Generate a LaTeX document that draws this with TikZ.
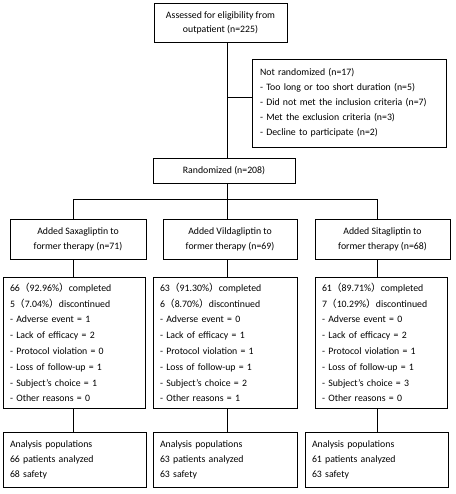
\documentclass[tikz,border=0pt]{standalone}
\usepackage{fontspec}
\setmainfont{Carlito}
\newfontfamily\cjkfont{Noto Sans CJK SC}
\newcommand{\cjklp}{{\cjkfont （}}
\newcommand{\cjkrp}{{\cjkfont ）}}
\begin{document}
\begin{tikzpicture}[x=1pt,y=-1pt,
  box/.style={draw=black, line width=0.8pt, inner xsep=7pt, inner ysep=0pt,
    font=\fontsize{9.8}{15}\selectfont},
  cbox/.style={box, align=center},
  lbox/.style={box, align=left},
  link/.style={draw=black, line width=0.8pt}]
\useasboundingbox[fill=white] (0,0) rectangle (455,494);

\coordinate (spine) at (227,0);
\coordinate (cL) at (73,0);
\coordinate (cM) at (227,0);
\coordinate (cR) at (377,0);
\coordinate (bar) at (0,199);

\node[cbox, minimum width=133pt, minimum height=39pt, font=\fontsize{9.8}{14}\selectfont] (top) at (220.5,22.5)
  {Assessed for eligibility from\\outpatient (n=225)};
\node[lbox, inner xsep=8pt, text width=178pt, minimum height=88pt] (notrand) at (349,103)
  {Not randomized (n=17)\\- Too long or too short duration (n=5)\\- Did not met the inclusion criteria (n=7)\\- Met the exclusion criteria (n=3)\\- Decline to participate (n=2)};
\node[cbox, minimum width=142pt, minimum height=25pt] (rand) at (224,170.5) {Randomized (n=208)};

\node[cbox, minimum width=136pt, minimum height=40pt] (a1) at (78,239) {Added Saxagliptin to\\former therapy (n=71)};
\node[cbox, minimum width=134pt, minimum height=40pt] (a2) at (230,239) {Added Vildagliptin to\\former therapy (n=69)};
\node[cbox, minimum width=135pt, minimum height=40pt] (a3) at (382.5,239) {Added Sitagliptin to\\former therapy (n=68)};

\node[lbox, text width=128pt, minimum height=131pt, font=\fontsize{9.8}{15.8}\selectfont] (b1) at (74,342.5)
  {66\cjklp 92.96\%\cjkrp completed\\5\cjklp 7.04\%\cjkrp discontinued\\- Adverse event = 1\\- Lack of efficacy = 2\\- Protocol violation = 0\\- Loss of follow-up = 1\\- Subject's choice = 1\\- Other reasons = 0};
\node[lbox, text width=130pt, minimum height=131pt, font=\fontsize{9.8}{15.8}\selectfont] (b2) at (225,342.5)
  {63\cjklp 91.30\%\cjkrp completed\\6\cjklp 8.70\%\cjkrp discontinued\\- Adverse event = 0\\- Lack of efficacy = 1\\- Protocol violation = 1\\- Loss of follow-up = 1\\- Subject's choice = 2\\- Other reasons = 1};
\node[lbox, text width=118pt, minimum height=131pt, font=\fontsize{9.8}{15.8}\selectfont] (b3) at (381,342.5)
  {61\cjklp 89.71\%\cjkrp completed\\7\cjklp 10.29\%\cjkrp discontinued\\- Adverse event = 0\\- Lack of efficacy = 2\\- Protocol violation = 1\\- Loss of follow-up = 1\\- Subject's choice = 3\\- Other reasons = 0};

\node[lbox, text width=129pt, minimum height=55pt] (c1) at (74.5,459.5)
  {Analysis populations\\66 patients analyzed\\68 safety};
\node[lbox, text width=130pt, minimum height=55pt] (c2) at (225,459.5)
  {Analysis populations\\63 patients analyzed\\63 safety};
\node[lbox, text width=129pt, minimum height=55pt] (c3) at (376.5,459.5)
  {Analysis populations\\61 patients analyzed\\63 safety};

% connectors
\draw[link] (top.south -| spine) -- (rand.north -| spine);
\draw[link] (spine |- notrand.west) ++(0,-6) coordinate (nrj) -- ([yshift=6pt]notrand.west);
\draw[link] (rand.south -| spine) -- (bar -| spine);
\draw[link] (bar -| cL) -- (bar -| cR);
\draw[link] (bar -| cL) -- (a1.north -| cL);
\draw[link] (bar -| cM) -- (a2.north -| cM);
\draw[link] (bar -| cR) -- (a3.north -| cR);
\draw[link] (a1.south -| cL) -- (b1.north -| cL);
\draw[link] (a2.south -| cM) -- (b2.north -| cM);
\draw[link] (a3.south -| cR) -- (b3.north -| cR);
\draw[link] (b1.south -| cL) -- (c1.north -| cL);
\draw[link] (b2.south -| cM) -- (c2.north -| cM);
\draw[link] (b3.south -| cR) -- (c3.north -| cR);
\end{tikzpicture}
\end{document}
